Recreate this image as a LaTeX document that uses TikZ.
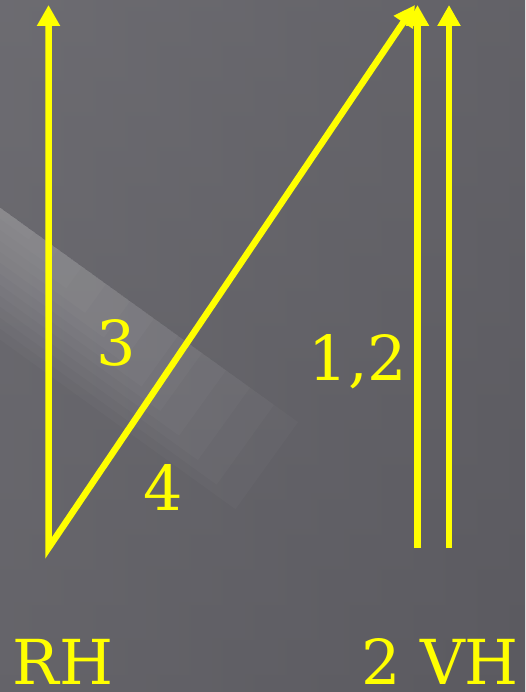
\documentclass[tikz,border=0pt]{standalone}
\usepackage{fontspec}
\setmainfont{DejaVu Serif}
\usetikzlibrary{arrows.meta,calc}

\definecolor{slidebg}{RGB}{91,90,96}
\definecolor{vecyellow}{RGB}{255,255,0}

\begin{document}
\begin{tikzpicture}[
  x=1pt, y=-1pt,
  vec/.style={-{Triangle[length=21pt, width=22pt]}, line width=6.5pt, vecyellow},
  lbl/.style={text=vecyellow, font=\fontsize{62}{70}\selectfont, inner sep=0pt},
  glow/.style={white, opacity=0.024}
]
\useasboundingbox (0,0) rectangle (525,692);
% background
\shade[top color=slidebg!88!white, bottom color=slidebg] (0,0) rectangle (525,692);
\shade[left color=slidebg!90!white, right color=slidebg, opacity=0.6] (0,0) rectangle (525,692);
\begin{scope}
  \clip (0,0) rectangle (525,692);
  \foreach \k [evaluate=\k as \len using 10+24*\k,
               evaluate=\k as \dep using 11*\k] in {1,...,12}
    \fill[glow] (-5,204) -- (\len,{204+0.72*(\len+5)})
      -- ({\len-0.474*\dep},{204+0.72*(\len+5)+0.659*\dep}) -- (-5,204+\dep) -- cycle;
\end{scope}

\coordinate (base) at (48.5,548);
\coordinate (rhtop) at (48.5,5);
\coordinate (vhtop) at (415,5);
\coordinate (vaone) at (417.5,548);
\coordinate (vatop) at (417.5,5);
\coordinate (vbone) at (449,548);
\coordinate (vbtop) at (449,5);

\draw[vec, {Triangle[length=21pt, width=22pt]}-{Triangle[length=21pt, width=22pt]}]
  (rhtop) -- (base) -- (vhtop);
\draw[vec] (vaone) -- (vatop);
\draw[vec] (vbone) -- (vbtop);

\node[lbl] (three) at (116,343) {3};
\node[lbl] (four) at (163,487) {4};
\node[lbl] (onetwo) at (358,362) {1,2};
\node[lbl, anchor=base] (rh) at (63,684) {RH};
\node[lbl, anchor=base] (vh) at (440,684) {2 VH};
\end{tikzpicture}
\end{document}
